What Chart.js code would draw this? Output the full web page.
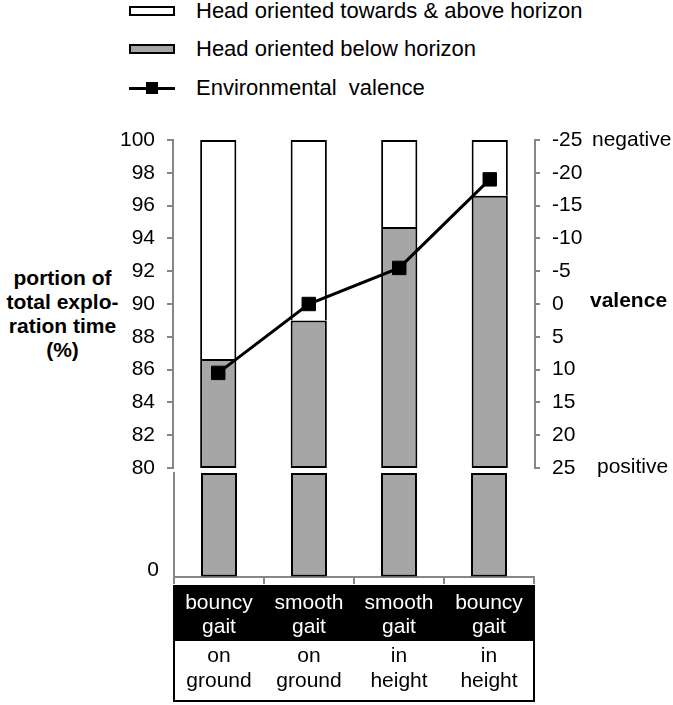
<!DOCTYPE html>
<html>
<head>
<meta charset="utf-8">
<script src="https://cdn.jsdelivr.net/npm/chart.js@4.4.1/dist/chart.umd.min.js"></script>
<style>
  body { margin: 0; background: #fff; font-family: "Liberation Sans", Arial, sans-serif; }
  #wrap { position: relative; width: 673px; height: 705px; overflow: hidden; }
  canvas { position: absolute; left: 0; }
  .lg { position: absolute; left: 129px; height: 24px; display: flex; align-items: center; font-size: 22px; line-height: 24px; white-space: pre; }
  .sw { width: 46px; height: 10px; box-sizing: border-box; border: 2px solid #000; margin-right: 21px; }
  .ln { position: relative; width: 46px; height: 3px; background: #000; margin-right: 21px; }
  .ln::after { content: ""; position: absolute; left: 17px; top: -5px; width: 12px; height: 12px; background: #000; }
  .txt { position: absolute; font-size: 21px; line-height: 24px; white-space: pre; }
  .b { font-weight: bold; }
  #ytitle { position: absolute; left: 0; top: 266px; width: 125px; text-align: center; font-weight: bold; font-size: 21px; line-height: 24px; }
</style>
</head>
<body>
<div id="wrap">
  <div class="lg" style="top:-1px"><div class="sw" style="background:#fff"></div>Head oriented towards &amp; above horizon</div>
  <div class="lg" style="top:37px"><div class="sw" style="background:#a6a6a6"></div>Head oriented below horizon</div>
  <div class="lg" style="top:76px"><div class="ln"></div>Environmental  valence</div>

  <div id="ytitle">portion of<br>total explo-<br>ration time<br>(%)</div>

  <canvas id="topChart" width="673" height="370" style="top:110px"></canvas>
  <canvas id="bottomChart" width="673" height="245" style="top:460px"></canvas>

  <div class="txt" style="left:592px; top:127px">negative</div>
  <div class="txt b" style="left:590px; top:288px">valence</div>
  <div class="txt" style="left:597px; top:454px">positive</div>
</div>
<script>
const gaitLabels = [['bouncy', 'gait'], ['smooth', 'gait'], ['smooth', 'gait'], ['bouncy', 'gait']];
const placeLabels = [['on', 'ground'], ['on', 'ground'], ['in', 'height'], ['in', 'height']];
const belowHorizon = [86.65, 89.0, 94.7, 96.6];
const valence = [10.5, 0, -5.5, -19];
const portionTicks = [80, 82, 84, 86, 88, 90, 92, 94, 96, 98, 100];
const valenceTicks = [-25, -20, -15, -10, -5, 0, 5, 10, 15, 20, 25];
const axisBreak = 80;

const GRAY = '#a6a6a6';
const AXIS = '#868686';
const font = { family: '"Liberation Sans", Arial, sans-serif', size: 21 };

Chart.defaults.font.family = font.family;
Chart.defaults.color = '#000';

// keep the label overflow out of the layout, the canvas padding handles it
const fixWidth = w => s => { s.width = w; s.paddingTop = 0; s.paddingBottom = 0; };

const barStyle = {
    type: 'bar',
    borderColor: '#000',
    borderWidth: 2,
    borderSkipped: false,
    grouped: false,
    barPercentage: 0.4,
    categoryPercentage: 1,
    order: 1
};

new Chart(document.getElementById('topChart'), {
    data: {
        labels: gaitLabels,
        datasets: [
            {
                type: 'line',
                label: 'Environmental valence',
                data: valence,
                yAxisID: 'y1',
                borderColor: '#000',
                borderWidth: 3,
                pointStyle: 'rect',
                pointRadius: 9.5,
                pointBackgroundColor: '#000',
                pointBorderColor: '#000',
                pointBorderWidth: 1,
                order: 0
            },
            { ...barStyle, label: 'Head oriented below horizon', data: belowHorizon.map(v => [axisBreak, v]), backgroundColor: GRAY },
            { ...barStyle, label: 'Head oriented towards & above horizon', data: belowHorizon.map(v => [v, 100]), backgroundColor: '#fff', borderSkipped: 'start' }
        ]
    },
    options: {
        responsive: false,
        animation: false,
        layout: { padding: { top: 30, bottom: 12, left: 0, right: 0 } },
        plugins: { legend: { display: false }, tooltip: { enabled: false } },
        scales: {
            x: { display: false, offset: true },
            y: {
                min: 80, max: 100,
                afterBuildTicks: s => { s.ticks = portionTicks.map(v => ({ value: v })); },
                afterFit: fixWidth(173),
                ticks: { font, color: '#000', padding: 12 },
                grid: { drawOnChartArea: false, tickLength: 6, color: AXIS, lineWidth: 2 },
                border: { color: AXIS, width: 2 }
            },
            y1: {
                position: 'right',
                reverse: true,
                min: -25, max: 25,
                afterBuildTicks: s => { s.ticks = valenceTicks.map(v => ({ value: v })); },
                afterFit: fixWidth(138),
                ticks: { font, color: '#000', padding: 12 },
                grid: { drawOnChartArea: false, tickLength: 5, color: AXIS, lineWidth: 2 },
                border: { color: AXIS, width: 2 }
            }
        }
    }
});

const categoryBoxes = {
    id: 'categoryBoxes',
    beforeDraw(chart) {
        const { ctx, scales: { x, x2 } } = chart;
        ctx.save();
        ctx.fillStyle = '#000';
        ctx.fillRect(x.left - 1, x.top + 8, x.right - x.left + 2, x.bottom - x.top - 8);
        ctx.strokeStyle = '#000';
        ctx.lineWidth = 2;
        ctx.strokeRect(x2.left, x2.top, x2.right - x2.left, x2.bottom - x2.top - 1);
        ctx.restore();
    }
};

new Chart(document.getElementById('bottomChart'), {
    type: 'bar',
    data: {
        labels: gaitLabels,
        datasets: [
            { ...barStyle, label: 'Head oriented below horizon', data: belowHorizon.map(v => [0, Math.min(v, axisBreak)]), backgroundColor: GRAY }
        ]
    },
    options: {
        responsive: false,
        animation: false,
        layout: { padding: { top: 13, bottom: 3, left: 0, right: 139 } },
        plugins: { legend: { display: false }, tooltip: { enabled: false } },
        scales: {
            x: {
                position: 'bottom',
                weight: 0,
                afterFit: s => { s.height = 63; },
                ticks: { font: { ...font, lineHeight: 24 / 21 }, color: '#fff', padding: 7, maxRotation: 0, autoSkip: false },
                grid: { offset: true, drawOnChartArea: false, tickLength: 7, color: AXIS, lineWidth: 2 },
                border: { color: AXIS, width: 2 }
            },
            x2: {
                type: 'category',
                labels: placeLabels,
                position: 'bottom',
                weight: 1,
                offset: true,
                afterFit: s => { s.height = 62; },
                ticks: { font: { ...font, lineHeight: 25 / 21 }, color: '#000', padding: 4, maxRotation: 0, autoSkip: false },
                grid: { display: false, drawTicks: false },
                border: { display: false }
            },
            y: {
                min: 0, max: axisBreak,
                afterBuildTicks: s => { s.ticks = [{ value: 0 }]; },
                afterFit: fixWidth(174),
                ticks: { font, color: '#000', padding: 15, labelOffset: -7 },
                grid: { drawOnChartArea: false, drawTicks: false },
                border: { color: AXIS, width: 2 }
            }
        }
    },
    plugins: [categoryBoxes]
});
</script>
</body>
</html>
